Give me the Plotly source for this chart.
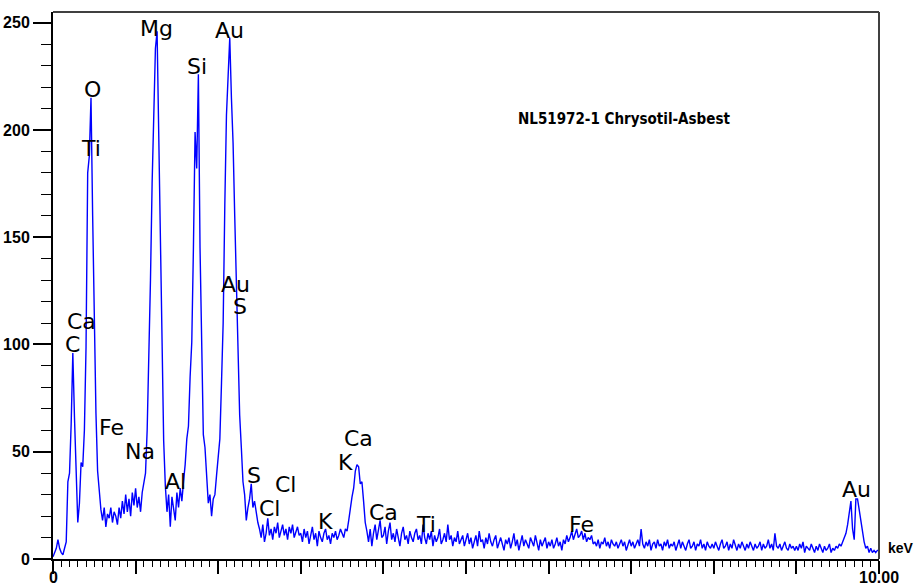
import plotly.graph_objects as go

# ---------------- data ----------------
# counts per 0.02 keV channel, starting at 0.00 keV (rows of 0.5 keV)
counts_00 = [1, 3, 5, 9, 5, 3, 2, 5, 8, 36, 40, 63, 96, 66, 46, 17, 26, 45, 43, 60, 99, 180, 188, 215, 160]
counts_05 = [105, 68, 41, 30, 23, 18, 24, 15, 21, 19, 24, 17, 22, 20, 16, 24, 19, 27, 21, 30, 22, 28, 20, 31, 25]
counts_10 = [33, 24, 29, 22, 31, 36, 40, 60, 90, 130, 175, 210, 238, 246, 200, 140, 90, 55, 34, 22, 30, 15, 29, 22, 18]
counts_15 = [31, 24, 33, 27, 36, 44, 56, 62, 85, 101, 145, 199, 182, 226, 145, 98, 58, 52, 39, 26, 30, 20, 28, 30, 39]
counts_20 = [50, 56, 82, 110, 165, 207, 225, 243, 215, 194, 160, 129, 98, 67, 52, 36, 30, 18, 24, 28, 35, 24, 27, 21, 17]
counts_25 = [14, 10, 16, 8, 12, 19, 11, 14, 9, 15, 12, 17, 10, 13, 16, 11, 14, 9, 15, 12, 16, 10, 13, 15, 11]
counts_30 = [12, 8, 14, 10, 13, 7, 11, 15, 9, 12, 6, 13, 10, 8, 12, 14, 9, 11, 7, 12, 10, 13, 9, 11, 14]
counts_35 = [12, 10, 14, 13, 18, 24, 29, 33, 41, 44, 43, 35, 36, 27, 17, 13, 8, 14, 6, 12, 16, 9, 13, 18, 10]
counts_40 = [11, 15, 7, 13, 17, 9, 12, 8, 14, 10, 6, 12, 15, 9, 11, 7, 13, 10, 8, 12, 14, 9, 11, 7, 16]
counts_45 = [10, 7, 12, 9, 13, 6, 11, 8, 10, 14, 7, 9, 12, 8, 16, 9, 11, 6, 10, 8, 13, 7, 9, 11, 6]
counts_50 = [9, 12, 7, 10, 5, 8, 11, 6, 13, 8, 9, 5, 10, 7, 12, 8, 6, 9, 11, 5, 8, 10, 7, 4, 9]
counts_55 = [7, 10, 5, 8, 12, 6, 9, 4, 8, 11, 6, 9, 7, 5, 10, 8, 6, 11, 7, 4, 9, 6, 8, 10, 5]
counts_60 = [8, 6, 9, 5, 7, 10, 6, 8, 4, 9, 7, 11, 8, 10, 13, 9, 12, 14, 10, 11, 13, 9, 12, 8, 10]
counts_65 = [9, 11, 7, 8, 6, 9, 5, 8, 7, 10, 6, 8, 5, 9, 7, 6, 8, 5, 7, 9, 6, 8, 4, 7, 9]
counts_70 = [6, 8, 5, 7, 9, 6, 14, 7, 5, 8, 6, 9, 4, 7, 8, 5, 9, 6, 7, 4, 8, 6, 9, 5, 7]
counts_75 = [6, 8, 4, 7, 9, 5, 8, 6, 4, 7, 9, 5, 6, 8, 4, 7, 6, 9, 5, 7, 4, 8, 6, 5, 7]
counts_80 = [5, 8, 6, 4, 7, 9, 5, 6, 8, 4, 7, 5, 9, 6, 4, 7, 5, 8, 6, 4, 7, 5, 8, 6, 4]
counts_85 = [7, 5, 6, 8, 4, 7, 5, 6, 9, 5, 7, 4, 12, 6, 5, 7, 4, 6, 8, 5, 4, 7, 5, 6, 4]
counts_90 = [6, 4, 7, 5, 8, 3, 6, 5, 4, 7, 5, 3, 6, 4, 7, 5, 3, 6, 4, 5, 7, 3, 5, 4, 6]
counts_95 = [5, 7, 6, 8, 10, 12, 16, 22, 27, 14, 9, 28, 28, 23, 18, 12, 8, 5, 6, 3, 5, 3, 4, 3, 4]
counts_100 = [4]

channel_start_kev = 0.0
channel_width_kev = 0.02

# element labels
label_text = ["O", "Ti", "Mg", "Si", "Au", "Ca", "C", "Au", "S", "Fe", "Na", "Al",
              "S", "Cl", "Cl", "K", "Ca", "K", "Ca", "Ti", "Fe", "Au"]
label_kev = [0.484, 0.46, 1.259, 1.743, 2.131, 0.351, 0.242, 2.215, 2.264, 0.714, 1.053, 1.489,
             2.433, 2.815, 2.627, 3.293, 3.699, 3.547, 4.007, 4.516, 6.404, 9.722]
label_counts = [219, 191.5, 247.5, 229.5, 246.5, 110.5, 99.8, 128, 117.5, 61.5, 50, 36,
                39, 34.5, 23.5, 17.5, 56, 45, 21.5, 16, 16, 32.5]

title_text = "NL51972-1 Chrysotil-Asbest"
x_tick_vals = [0, 1, 2, 3, 4, 5, 6, 7, 8, 9, 10]
x_label_vals = [0, 10]
x_label_text = ["0", "10.00"]
y_tick_vals = [0, 50, 100, 150, 200, 250]
y_tick_text = ["0", "50", "100", "150", "200", "250"]

counts = (counts_00 + counts_05 + counts_10 + counts_15 + counts_20 + counts_25 + counts_30 +
          counts_35 + counts_40 + counts_45 + counts_50 + counts_55 + counts_60 + counts_65 +
          counts_70 + counts_75 + counts_80 + counts_85 + counts_90 + counts_95 + counts_100)

# ---------------- figure ----------------
fig = go.Figure()
fig.add_trace(go.Scatter(
    y=counts, x0=channel_start_kev, dx=channel_width_kev,
    mode="lines", line=dict(color="#0000FF", width=1.4),
    hoverinfo="skip", showlegend=False,
))

lab_font = dict(family="DejaVu Sans, Liberation Sans, Arial, sans-serif", size=22, color="black")
for t, xv, yv in zip(label_text, label_kev, label_counts):
    fig.add_annotation(x=xv, y=yv, text=t, showarrow=False, font=lab_font,
                       xanchor="center", yanchor="middle")

tick_font = dict(family="Liberation Sans, Arial, sans-serif", size=16, color="black", weight="bold")

# x-axis end labels (placed tight under the long ticks, as in the reference)
for xv, t in zip(x_label_vals, x_label_text):
    fig.add_annotation(x=xv, xref="x", yref="paper", y=-0.033, text=t, showarrow=False,
                       xanchor="center", yanchor="middle", font=tick_font)

fig.add_annotation(xref="paper", yref="paper", x=0.691, y=0.805, text="<b>" + title_text + "</b>",
                   showarrow=False, xanchor="center", yanchor="middle",
                   font=dict(family="Liberation Sans Narrow, DejaVu Sans Condensed, Arial Narrow, sans-serif",
                             size=15, color="black"))
fig.add_annotation(xref="paper", yref="paper", x=1.0085, y=0.02, text="<b>keV</b>",
                   showarrow=False, xanchor="left", yanchor="middle",
                   font=dict(family="Liberation Sans, Arial, sans-serif", size=14, color="black"))

fig.update_xaxes(
    range=[0, 10], showgrid=False, zeroline=False, automargin=False,
    showline=True, linecolor="black", linewidth=2,
    ticks="outside", tickvals=x_tick_vals, showticklabels=False,
    ticklen=13, tickwidth=1.5, tickcolor="black",
    minor=dict(dtick=0.1, ticks="outside", ticklen=6, tickwidth=1, tickcolor="black"),
)
fig.update_yaxes(
    range=[0, 255], showgrid=False, zeroline=False, automargin=False,
    showline=True, linecolor="black", linewidth=2,
    ticks="outside", tickvals=y_tick_vals, ticktext=y_tick_text,
    ticklen=18, tickwidth=1.5, tickcolor="black", tickfont=tick_font,
    minor=dict(dtick=10, ticks="outside", ticklen=10, tickwidth=1, tickcolor="black"),
)

fig.add_shape(type="line", xref="paper", yref="paper", x0=0, x1=1, y0=1, y1=1,
              line=dict(color="#404040", width=2))
fig.add_shape(type="line", xref="paper", yref="paper", x0=1, x1=1, y0=0, y1=1,
              line=dict(color="#404040", width=2))

fig.update_layout(
    width=915, height=586,
    margin=dict(l=53, r=36, t=12, b=27, autoexpand=False),
    plot_bgcolor="white", paper_bgcolor="white",
    showlegend=False,
)

fig.write_html("out.html", config={"displayModeBar": False},
               post_script="document.body.style.margin='0px';document.body.style.overflow='hidden';")
